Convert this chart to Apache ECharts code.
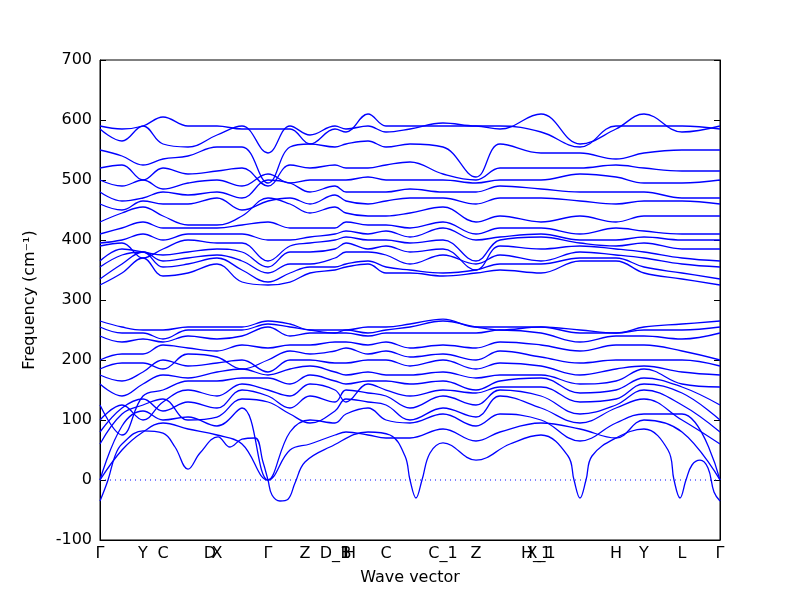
<!DOCTYPE html>
<html>
<head>
<meta charset="utf-8">
<script src="https://cdn.jsdelivr.net/npm/echarts@6/dist/echarts.min.js"></script>
<style>html,body{margin:0;background:#fff}#main{width:800px;height:600px}</style>
</head>
<body>
<div id="main"></div>
<script>
// high symmetry points (position along path, label)
var kPos = [0, 43, 63, 110, 117, 168, 205, 235, 246, 250, 286, 343, 376, 436, 441, 516, 544, 582, 620];
var kLabels = ['Γ', 'Y', 'C', 'D', 'X', 'Γ', 'Z', 'D_1', 'B', 'H', 'C', 'C_1', 'Z', 'H_1', 'X_1', 'H', 'Y', 'L', 'Γ'];

// acoustic band with soft-mode dips, finer sampling
var acX = [0,8,15,22,43,63,75,88,100,118,130,142,155,163,168,172,180,188,195,205,230,268,290,305,310,316,322,330,343,376,410,441,468,474,480,486,492,516,544,568,574,580,586,592,600,608,614,620];
var acY = [-35,0,40,60,82,78,55,18,45,72,55,68,70,30,0,-25,-35,-32,-5,30,55,80,75,40,0,-30,0,45,62,33,60,75,40,0,-30,0,40,70,85,50,0,-30,0,25,33,20,-20,-35];

// other bands sampled on a common grid
var kx = [0,22,43,63,88,117,142,168,190,210,235,246,268,286,310,343,376,400,441,480,516,544,582,620];
var lowBands = [
  [0,50,80,95,85,75,60,0,50,60,75,80,75,70,70,85,65,80,95,85,70,100,80,0],
  [0,90,115,100,105,90,120,0,80,100,95,110,120,100,95,110,90,110,100,65,95,110,110,0],
  [60,110,125,135,100,105,135,130,110,95,115,135,130,125,100,120,105,140,120,95,120,135,100,60],
  [80,120,135,115,130,120,150,140,120,140,130,150,145,140,120,140,125,150,140,110,125,150,125,80],
  [100,125,100,130,150,140,160,150,140,160,150,130,160,150,140,150,145,155,155,130,135,160,145,100],
  [125,75,140,150,165,165,170,170,160,175,165,160,165,165,160,165,150,165,170,145,150,170,155,125],
  [160,140,160,175,170,180,185,175,185,190,180,175,180,175,175,180,170,175,175,160,165,185,160,155],
  [175,165,180,200,190,195,200,180,200,200,195,195,200,200,190,200,185,195,190,175,185,190,180,175],
  [185,195,195,185,210,205,185,200,215,210,215,220,210,215,205,210,200,215,205,195,200,200,200,190],
  [200,210,210,225,220,215,225,220,225,225,230,230,225,230,220,225,220,230,225,215,225,225,215,200],
  [240,230,235,230,240,235,240,255,240,245,245,245,240,245,245,245,245,250,245,230,240,240,235,245],
  [255,245,245,235,250,250,250,260,255,250,245,250,245,250,255,265,255,250,255,245,245,250,250,255],
  [265,255,250,250,255,255,255,265,260,250,250,250,255,255,260,268,255,255,255,250,245,255,260,265]
];
var highBands = [
  [325,345,370,340,345,360,330,325,330,345,350,355,360,345,345,340,345,350,345,365,365,345,335,325],
  [335,360,380,355,360,370,350,330,345,355,355,360,365,355,350,345,350,360,360,370,370,355,345,335],
  [355,375,380,365,370,375,365,345,360,360,370,380,380,375,360,375,360,375,365,380,375,370,360,355],
  [365,385,380,375,380,385,380,355,380,380,385,395,385,390,380,385,350,390,385,390,385,380,370,365],
  [390,395,370,385,400,395,395,365,390,395,400,405,400,400,395,400,365,400,405,395,390,395,385,385],
  [395,400,410,400,410,410,410,400,400,405,410,415,410,415,405,420,400,405,410,400,400,405,400,400],
  [410,420,430,420,420,420,425,430,420,420,420,430,425,425,420,430,410,420,420,410,420,415,410,410],
  [430,445,455,440,425,425,440,470,460,445,455,445,440,440,445,455,430,440,430,440,430,440,440,440],
  [460,450,465,460,460,470,450,465,470,460,475,465,460,465,470,470,460,470,470,465,460,465,465,460],
  [480,465,470,480,475,480,470,500,495,480,490,480,480,480,485,480,480,490,485,480,480,480,470,470],
  [500,490,500,485,495,500,490,510,495,500,500,500,505,500,500,500,495,500,500,510,505,495,495,500],
  [520,525,500,520,510,515,520,490,525,520,525,520,520,525,530,510,500,520,520,520,525,520,515,515],
  [550,540,525,535,540,555,555,495,555,560,555,560,565,555,560,555,505,560,545,545,535,545,550,550],
  [585,565,590,560,555,575,590,545,590,575,590,585,590,580,585,595,590,590,580,555,590,590,590,585],
  [590,585,590,605,590,590,585,585,585,560,585,580,610,590,590,590,590,585,610,560,585,610,580,590]
];

var myChart = echarts.init(document.getElementById('main'));
var series = [];
function band(xs, ys) {
  return {
    type: 'line', smooth: 0.4, symbol: 'none', silent: true,
    lineStyle: { color: '#0000ff', width: 1.3 },
    data: xs.map(function(x, i) { return [x, ys[i]]; })
  };
}
series.push(band(acX, acY));
lowBands.concat(highBands).forEach(function(b) { series.push(band(kx, b)); });
// dotted zero line
series.push({
  type: 'line', symbol: 'none', silent: true,
  lineStyle: { color: '#0000ff', width: 1, type: [1, 4] },
  data: [[0, 0], [620, 0]]
});

var font = 'DejaVu Sans';
var option = {
  animation: false,
  grid: { left: 100, right: 80, top: 60, bottom: 60, show: true, borderColor: '#000', borderWidth: 1 },
  xAxis: [{
    type: 'value', min: 0, max: 620, interval: 1,
    name: 'Wave vector', nameLocation: 'middle', nameGap: 30,
    nameTextStyle: { color: '#000', fontSize: 16, fontFamily: font },
    splitLine: { show: false }, axisTick: { show: false },
    axisLine: { onZero: false, lineStyle: { color: '#000' } },
    axisLabel: {
      color: '#000', fontSize: 16, fontFamily: font, margin: 6,
      showMinLabel: true, showMaxLabel: true,
      formatter: function(v) {
        var out = [];
        kPos.forEach(function(p, i) { if (Math.round(v) === p) out.push(kLabels[i]); });
        return out.length ? out[out.length - 1] : '';
      }
    }
  }],
  yAxis: [{
    type: 'value', min: -100, max: 700, interval: 100,
    name: 'Frequency (cm⁻¹)', nameLocation: 'middle', nameGap: 62,
    nameTextStyle: { color: '#000', fontSize: 16, fontFamily: font },
    splitLine: { show: false },
    axisLine: { onZero: false, lineStyle: { color: '#000' } },
    axisTick: { inside: true, length: 6, lineStyle: { color: '#000' } },
    axisLabel: { color: '#000', fontSize: 16, fontFamily: font, margin: 8 }
  }, {
    type: 'value', min: -100, max: 700, interval: 100, position: 'right',
    splitLine: { show: false }, axisLabel: { show: false },
    axisLine: { onZero: false, lineStyle: { color: '#000' } },
    axisTick: { inside: true, length: 6, lineStyle: { color: '#000' } }
  }],
  series: series
};
myChart.setOption(option);
</script>
</body>
</html>
